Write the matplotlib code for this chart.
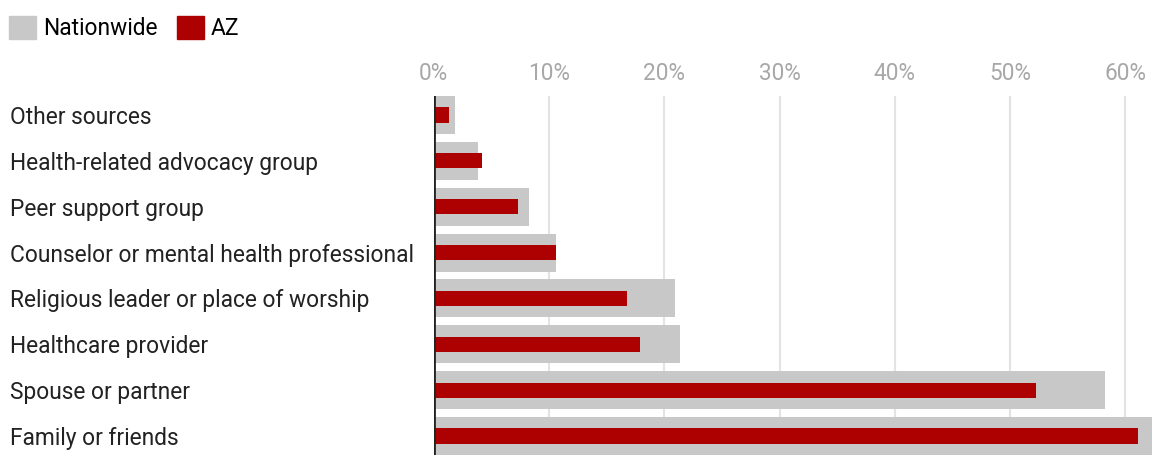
import matplotlib.pyplot as plt
from matplotlib.patches import Patch
from matplotlib.transforms import blended_transform_factory

plt.rcParams['font.family'] = ['Roboto', 'DejaVu Sans']

categories = ['Other sources', 'Health-related advocacy group', 'Peer support group',
              'Counselor or mental health professional', 'Religious leader or place of worship',
              'Healthcare provider', 'Spouse or partner', 'Family or friends']
nationwide = [1.85, 3.85, 8.3, 10.6, 20.9, 21.4, 58.2, 63.0]
az = [1.35, 4.15, 7.3, 10.6, 16.8, 17.9, 52.2, 61.1]
ticks = [0, 10, 20, 30, 40, 50, 60]

grey = '#c8c8c8'
red = '#ad0000'

fig = plt.figure(figsize=(11.52, 4.55), dpi=100)
ax = fig.add_axes([0.3765, 0.0, 0.6235, 0.789])

y = list(range(len(categories)))
ax.barh(y, nationwide, height=0.826, color=grey, zorder=2)
ax.barh(y, az, height=0.33, color=red, zorder=3)

ax.set_xlim(0, 62.3)
ax.set_ylim(7.413, -0.413)
ax.set_xticks(ticks)
ax.set_xticklabels([f'{t}%' for t in ticks])
ax.xaxis.tick_top()
ax.tick_params(axis='x', length=0, pad=8, labelsize=16.3, labelcolor='#a8a8a8')
ax.set_yticks([])
for s in ax.spines.values():
    s.set_visible(False)
ax.grid(axis='x', color='#e3e3e3', linewidth=1.5, zorder=0)
ax.axvline(0, color='#222222', linewidth=2, zorder=4)

tr = blended_transform_factory(fig.transFigure, ax.transData)
for i, c in enumerate(categories):
    ax.text(10 / 1152, i, c, transform=tr, ha='left', va='center_baseline',
            fontsize=16.4, color='#222222')

handles = [Patch(color=grey, label='Nationwide'), Patch(color=red, label='AZ')]
fig.legend(handles=handles, loc='upper left', bbox_to_anchor=(0.0, 0.985), ncol=2,
           frameon=False, fontsize=16.4, handlelength=1.18, handleheight=1.18,
           handletextpad=0.3, columnspacing=0.85, borderaxespad=0.2, borderpad=0.2)

fig.savefig('out.png', dpi=100)
